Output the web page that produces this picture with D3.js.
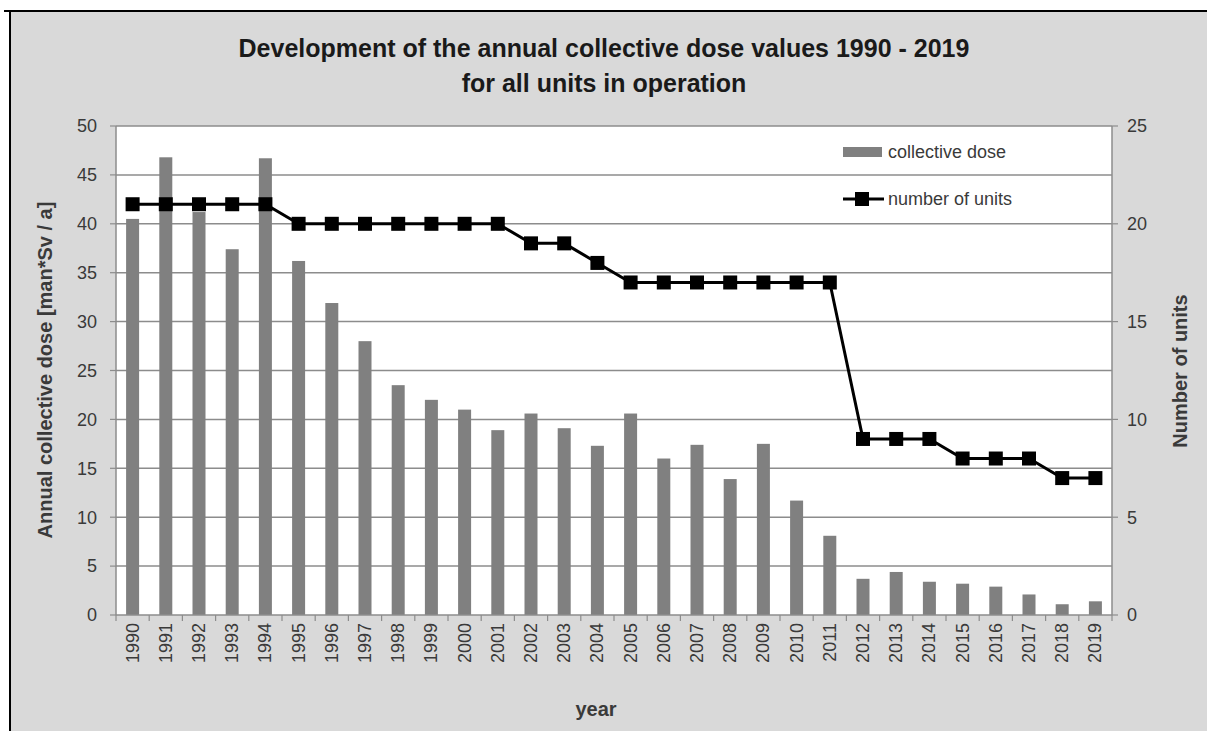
<!DOCTYPE html>
<html><head><meta charset="utf-8">
<script src="https://cdn.jsdelivr.net/npm/d3@7"></script>
<style>html,body{margin:0;background:#fff;overflow:hidden;}svg{display:block;font-family:"Liberation Sans",Arial,sans-serif;}</style>
</head><body>
<svg id="chart" width="1207" height="731"></svg>
<script>
const years = ["1990","1991","1992","1993","1994","1995","1996","1997","1998","1999","2000","2001","2002","2003","2004","2005","2006","2007","2008","2009","2010","2011","2012","2013","2014","2015","2016","2017","2018","2019"];
const collectiveDose = [40.5,46.8,41.2,37.4,46.7,36.2,31.9,28.0,23.5,22.0,21.0,18.9,20.6,19.1,17.3,20.6,16.0,17.4,13.9,17.5,11.7,8.1,3.7,4.4,3.4,3.2,2.9,2.1,1.1,1.4];
const numberOfUnits = [21,21,21,21,21,20,20,20,20,20,20,20,19,19,18,17,17,17,17,17,17,17,9,9,9,8,8,8,7,7];
const leftTicks = [0,5,10,15,20,25,30,35,40,45,50];
const rightTicks = [0,5,10,15,20,25];

const svg = d3.select("#chart");
const W = 1207, H = 731;
const m = {left:116, right:1112, top:126, bottom:615};
const txt = "#3a3a3a";

// outer frame
svg.append("rect").attr("x",10).attr("y",11).attr("width",W-10).attr("height",H-11).attr("fill","#d9d9d9");
svg.append("line").attr("x1",4).attr("x2",W).attr("y1",11).attr("y2",11).attr("stroke","#000").attr("stroke-width",2);
svg.append("line").attr("x1",10).attr("x2",10).attr("y1",11).attr("y2",H).attr("stroke","#000").attr("stroke-width",2);

// plot area
svg.append("rect").attr("x",m.left).attr("y",m.top).attr("width",m.right-m.left).attr("height",m.bottom-m.top).attr("fill","#fff");

const xb = d3.scaleBand().domain(years).range([m.left,m.right]);
const yL = d3.scaleLinear().domain([0,50]).range([m.bottom,m.top]);
const yR = d3.scaleLinear().domain([0,25]).range([m.bottom,m.top]);

// gridlines
svg.append("g").selectAll("line").data(leftTicks.slice(1)).join("line")
  .attr("x1",m.left).attr("x2",m.right).attr("y1",d=>yL(d)).attr("y2",d=>yL(d))
  .attr("stroke","#8c8c8c").attr("stroke-width",1.5);

// bars
svg.append("g").selectAll("rect").data(years).join("rect")
  .attr("x",(d)=>xb(d)+xb.bandwidth()/2-6.5)
  .attr("width",13)
  .attr("y",(d,i)=>yL(collectiveDose[i]))
  .attr("height",(d,i)=>yL(0)-yL(collectiveDose[i]))
  .attr("fill","#808080");

// axes
const axisColor = "#8c8c8c";
const gx = svg.append("g").attr("transform",`translate(0,${m.bottom})`);
gx.append("line").attr("x1",m.left).attr("x2",m.right).attr("stroke",axisColor).attr("stroke-width",1.5);
gx.selectAll("line.tk").data(d3.range(years.length+1)).join("line").attr("class","tk")
  .attr("x1",i=>m.left+i*xb.step()).attr("x2",i=>m.left+i*xb.step()).attr("y1",0).attr("y2",6)
  .attr("stroke",axisColor).attr("stroke-width",1.2);
gx.selectAll("text").data(years).join("text")
  .attr("transform",d=>`translate(${xb(d)+xb.bandwidth()/2+6},8) rotate(-90)`)
  .attr("text-anchor","end").attr("font-size",18).attr("fill",txt).text(d=>d);

const gl = svg.append("g");
gl.append("line").attr("x1",m.left).attr("x2",m.left).attr("y1",m.top).attr("y2",m.bottom).attr("stroke",axisColor).attr("stroke-width",1.5);
gl.selectAll("line.tk").data(leftTicks).join("line").attr("class","tk")
  .attr("x1",m.left-6).attr("x2",m.left).attr("y1",d=>yL(d)).attr("y2",d=>yL(d)).attr("stroke",axisColor).attr("stroke-width",1.2);
gl.selectAll("text").data(leftTicks).join("text")
  .attr("x",97).attr("y",d=>yL(d)).attr("dy","0.35em").attr("text-anchor","end")
  .attr("font-size",18).attr("fill",txt).text(d=>d);

const gr = svg.append("g");
gr.append("line").attr("x1",m.right).attr("x2",m.right).attr("y1",m.top).attr("y2",m.bottom).attr("stroke",axisColor).attr("stroke-width",1.5);
gr.selectAll("line.tk").data(rightTicks).join("line").attr("class","tk")
  .attr("x1",m.right).attr("x2",m.right+6).attr("y1",d=>yR(d)).attr("y2",d=>yR(d)).attr("stroke",axisColor).attr("stroke-width",1.2);
gr.selectAll("text").data(rightTicks).join("text")
  .attr("x",1127).attr("y",d=>yR(d)).attr("dy","0.35em").attr("text-anchor","start")
  .attr("font-size",18).attr("fill",txt).text(d=>d);

// line
const line = d3.line().x((d,i)=>xb(years[i])+xb.bandwidth()/2).y(d=>yR(d));
svg.append("path").datum(numberOfUnits).attr("d",line).attr("fill","none").attr("stroke","#000").attr("stroke-width",3);
svg.append("g").selectAll("rect").data(numberOfUnits).join("rect")
  .attr("x",(d,i)=>xb(years[i])+xb.bandwidth()/2-7).attr("y",d=>yR(d)-7)
  .attr("width",14).attr("height",14).attr("fill","#000");

// legend
const lg = svg.append("g");
lg.append("rect").attr("x",843).attr("y",147).attr("width",39).attr("height",10).attr("fill","#808080");
lg.append("text").attr("x",888).attr("y",152).attr("dy","0.35em").attr("font-size",18).attr("fill",txt).text("collective dose");
lg.append("line").attr("x1",843).attr("x2",884).attr("y1",199).attr("y2",199).attr("stroke","#000").attr("stroke-width",3);
lg.append("rect").attr("x",855).attr("y",192).attr("width",14).attr("height",14).attr("fill","#000");
lg.append("text").attr("x",888).attr("y",199).attr("dy","0.35em").attr("font-size",18).attr("fill",txt).text("number of units");

// titles
svg.append("text").attr("x",604).attr("y",57).attr("text-anchor","middle").attr("font-size",25).attr("font-weight","bold").attr("fill","#1a1a1a")
  .text("Development of the annual collective dose values 1990 - 2019");
svg.append("text").attr("x",604).attr("y",92).attr("text-anchor","middle").attr("font-size",25).attr("font-weight","bold").attr("fill","#1a1a1a")
  .text("for all units in operation");
svg.append("text").attr("transform","translate(52,370) rotate(-90)").attr("text-anchor","middle").attr("font-size",20).attr("font-weight","bold").attr("fill",txt)
  .text("Annual collective dose [man*Sv / a]");
svg.append("text").attr("transform","translate(1187,371) rotate(-90)").attr("text-anchor","middle").attr("font-size",20).attr("font-weight","bold").attr("fill",txt)
  .text("Number of units");
svg.append("text").attr("x",596).attr("y",716).attr("text-anchor","middle").attr("font-size",20).attr("font-weight","bold").attr("fill",txt).text("year");
</script>
</body></html>
